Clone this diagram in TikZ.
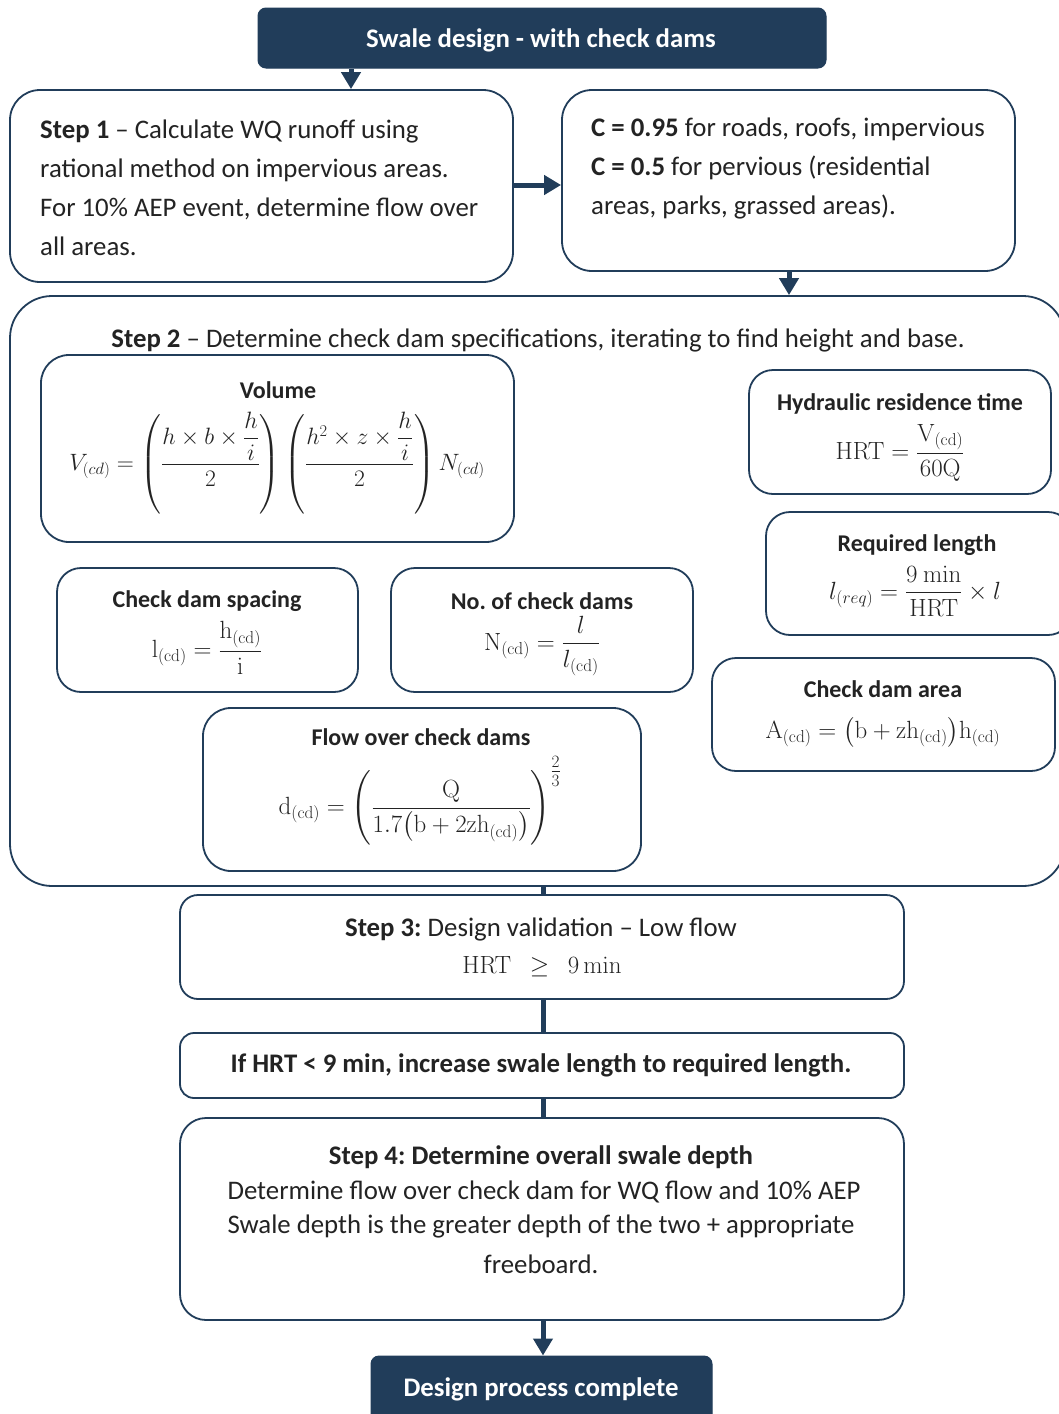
\documentclass[tikz,border=0pt]{standalone}
\usepackage[no-math]{fontspec}
\setmainfont{Carlito}
\usepackage{amsmath}
\usepackage{graphicx}
\usetikzlibrary{arrows.meta}
\definecolor{navy}{RGB}{33,61,90}
\definecolor{ink}{RGB}{35,35,35}
\frenchspacing
\tikzset{
  box/.style={draw=navy, line width=1.8pt, fill=white, inner sep=0pt, rounded corners=#1},
  box/.default=26pt,
  dark/.style={draw=navy, fill=navy, line width=1pt, rounded corners=8pt, inner sep=0pt},
  conn/.style={draw=navy, line width=5pt},
  arr/.style={conn, -{Triangle[width=19pt,length=17pt]}},
  body/.style={text=ink, inner sep=0pt, font=\fontsize{26.8}{39}\selectfont},
  bbody/.style={text=ink, inner sep=0pt, font=\fontsize{26.8}{39}\selectfont\bfseries},
  ttl/.style={text=ink, inner sep=0pt, font=\fontsize{24}{28}\selectfont\bfseries},
  eqn/.style={text=ink, inner sep=0pt, font=\fontsize{25}{30}\selectfont},
  wt/.style={text=white, inner sep=0pt, font=\fontsize{26.8}{30}\selectfont\bfseries},
}
\begin{document}
\begin{tikzpicture}[x=1pt,y=-1pt]
\useasboundingbox (0,0) rectangle (1059,1414);
\clip (0,0) rectangle (1059,1414);

% boxes
\node[dark, minimum width=568pt, minimum height=60pt] (title) at (542,38) {};
\node[box=30pt, minimum width=503pt, minimum height=192pt] (s1) at (261.5,186) {};
\node[box=30pt, minimum width=453pt, minimum height=181pt] (cb) at (788.5,180.5) {};
\node[box=42pt, minimum width=1055pt, minimum height=590pt] (s2) at (537.5,591) {};
\node[box=28pt, minimum width=473pt, minimum height=187pt] (vol) at (277.5,448.5) {};
\node[box=24pt, minimum width=302pt, minimum height=124pt] (hrt) at (900,432) {};
\node[box=24pt, minimum width=306pt, minimum height=123pt] (req) at (919,573.5) {};
\node[box=24pt, minimum width=343pt, minimum height=113pt] (area) at (883.5,714.5) {};
\node[box=24pt, minimum width=301pt, minimum height=124pt] (spc) at (207.5,630) {};
\node[box=24pt, minimum width=302pt, minimum height=124pt] (num) at (542,630) {};
\node[box=28pt, minimum width=438pt, minimum height=163pt] (flow) at (422,789.5) {};
\node[box=18pt, minimum width=724pt, minimum height=104pt] (s3) at (542,947) {};
\node[box=14pt, minimum width=724pt, minimum height=65pt] (iff) at (542,1065.5) {};
\node[box=26pt, minimum width=724pt, minimum height=202pt] (s4) at (542,1219) {};
\node[dark, minimum width=341pt, minimum height=70pt] (done) at (541.5,1391) {};

% connectors
\coordinate (xa) at (351,0);
\coordinate (xb) at (789,0);
\coordinate (xc) at (543,0);
\coordinate (ya) at (0,185);
\draw[arr] (title.south -| xa) -- (s1.north -| xa);
\draw[arr] (s1.east |- ya) -- (cb.west |- ya);
\draw[arr] (cb.south -| xb) -- (s2.north -| xb);
\draw[conn] (s2.south -| xc) -- (s3.north -| xc);
\draw[conn] (s3.south -| xc) -- (iff.north -| xc);
\draw[conn] (iff.south -| xc) -- (s4.north -| xc);
\draw[arr] (s4.south -| xc) -- (done.north -| xc);

% texts
\node[wt] (titlet) at (541,40) {Swale design - with check dams};
\node[body, anchor=west, align=left] (s1t) at (40,187.5) {\textbf{Step 1} – Calculate WQ runoff using\\rational method on impervious areas.\\For 10\% AEP event, determine flow over\\all areas.};
\node[body, anchor=west, align=left] (cbt) at (591,168) {\textbf{C = 0.95} for roads, roofs, impervious\\\textbf{C = 0.5} for pervious (residential\\areas, parks, grassed areas).};
\node[body] (s2t) at (538,340) {\textbf{Step 2} – Determine check dam specifications, iterating to find height and base.};

\node[ttl] (volt) at (278,390) {Volume};
\node[eqn, font=\fontsize{23.5}{28}\selectfont] (vole) at (277,463) {\scalebox{0.95}{$\displaystyle V_{(cd)}=\left(\frac{h\times b\times \dfrac{h}{i}}{2}\right)\left(\frac{h^{2}\times z\times \dfrac{h}{i}}{2}\right)N_{(cd)}$}};

\node[ttl] (hrtt) at (900,404) {Hydraulic residence time};
\node[eqn] (hrte) at (900,453) {$\displaystyle \mathrm{HRT}=\frac{\mathrm{V}_{(\mathrm{cd})}}{60\mathrm{Q}}$};

\node[ttl] (reqt) at (917,545) {Required length};
\node[eqn] (reqe) at (915,591) {$\displaystyle l_{(req)}=\frac{9\ \mathrm{min}}{\mathrm{HRT}}\times l$};

\node[ttl] (spct) at (207,601) {Check dam spacing};
\node[eqn] (spce) at (207,648) {$\displaystyle \mathrm{l}_{(\mathrm{cd})}=\frac{\mathrm{h}_{(\mathrm{cd})}}{\mathrm{i}}$};

\node[ttl] (numt) at (542,601) {No. of check dams};
\node[eqn] (nume) at (542,646) {$\displaystyle \mathrm{N}_{(\mathrm{cd})}=\frac{l}{l_{(\mathrm{cd})}}$};

\node[ttl] (areat) at (883,689) {Check dam area};
\node[eqn] (areae) at (883,732) {$\displaystyle \mathrm{A}_{(\mathrm{cd})}=\bigl(\mathrm{b}+\mathrm{zh}_{(\mathrm{cd})}\bigr)\mathrm{h}_{(\mathrm{cd})}$};

\node[ttl] (flowt) at (421,737) {Flow over check dams};
\node[eqn, font=\fontsize{24}{28}\selectfont] (flowe) at (420,801) {$\displaystyle \mathrm{d}_{(\mathrm{cd})}=\left(\frac{\mathrm{Q}}{1.7\bigl(\mathrm{b}+2\mathrm{zh}_{(\mathrm{cd})}\bigr)}\right)^{\textstyle\frac{2}{3}}$};

\node[body] (s3t) at (541,929) {\textbf{Step 3:} Design validation – Low flow};
\node[eqn, font=\fontsize{26}{30}\selectfont] (s3e) at (542,967) {$\mathrm{HRT}\ \ \geq\ \ 9\,\mathrm{min}$};

\node[bbody] (ifft) at (541,1065) {If HRT < 9 min, increase swale length to required length.};

\node[bbody] (s4a) at (541,1157) {Step 4: Determine overall swale depth};
\node[body] (s4b) at (544,1192) {Determine flow over check dam for WQ flow and 10\% AEP};
\node[body] (s4c) at (541,1226) {Swale depth is the greater depth of the two + appropriate};
\node[body] (s4d) at (541,1264) {freeboard.};

\node[wt] (donet) at (541,1389) {Design process complete};
\end{tikzpicture}
\end{document}
